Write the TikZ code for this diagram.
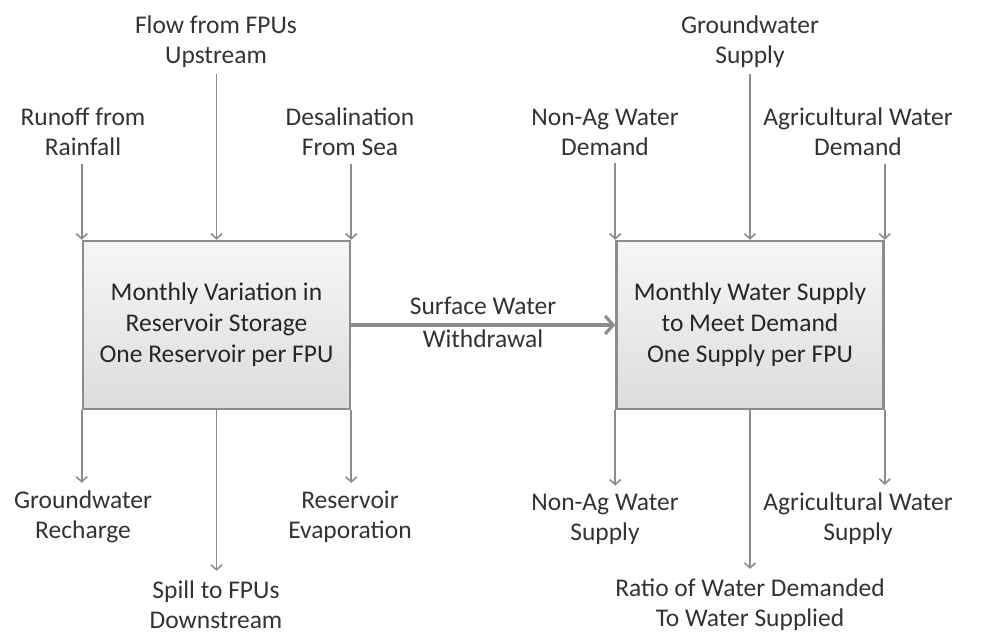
\documentclass[tikz,border=0pt]{standalone}
\usepackage{fontspec}
\setmainfont{Carlito}
\usetikzlibrary{arrows.meta}
\definecolor{linegray}{HTML}{8C8C8C}
\definecolor{txtgray}{HTML}{333333}
\begin{document}
\begin{tikzpicture}[x=1pt,y=-1pt,
  lab/.style={align=center, font=\fontsize{25.5}{30}\selectfont, text=txtgray, inner sep=0pt},
  box/.style={draw=linegray, line width=2.5pt, top color=gray!7, bottom color=gray!27,
    minimum width=267pt, minimum height=168pt, inner sep=0pt, align=center,
    font=\fontsize{25.5}{31}\selectfont, text=black!85},
  flow/.style={draw=linegray, line width=1.6pt, -{Straight Barb[length=5pt,width=11pt]}},
  mainflow/.style={draw=linegray, line width=3.2pt, -{Straight Barb[length=8pt,width=18pt]}}]
\useasboundingbox (0,0) rectangle (984,634);

\node[box] (res) at (216.5,325) {Monthly Variation in\\Reservoir Storage\\One Reservoir per FPU};
\node[box] (sup) at (750,325) {Monthly Water Supply\\to Meet Demand\\One Supply per FPU};

% top labels
\node[lab] (runoff) at (83,132) {Runoff from\\Rainfall};
\node[lab] (flowup) at (216,42) {Flow from FPUs\\Upstream};
\node[lab] (desal) at (350,132) {Desalination\\From Sea};
\node[lab] (nonagd) at (605,132) {Non-Ag Water\\Demand};
\node[lab] (gws) at (750,42) {Groundwater\\Supply};
\node[lab] (agd) at (858,132) {Agricultural Water\\Demand};

% bottom labels
\node[lab] (gwr) at (83,517) {Groundwater\\Recharge};
\node[lab] (spill) at (216,605) {Spill to FPUs\\Downstream};
\node[lab] (evap) at (350,517) {Reservoir\\Evaporation};
\node[lab] (nonags) at (605,519) {Non-Ag Water\\Supply};
\node[lab] (ratio) at (750,605) {Ratio of Water Demanded\\To Water Supplied};
\node[lab] (ags) at (858,519) {Agricultural Water\\Supply};

% middle labels
\node[lab] (sw) at (483,306) {Surface Water};
\node[lab] (wd) at (483,339) {Withdrawal};

% inflows
\draw[flow] ([yshift=-8pt]runoff.south -| res.north west) -- (res.north west);
\draw[flow] ([yshift=-6pt]flowup.south -| res.north) -- (res.north);
\draw[flow] ([yshift=-8pt]desal.south -| res.north east) -- (res.north east);
\draw[flow] ([yshift=-8pt]nonagd.south -| sup.north west) -- (sup.north west);
\draw[flow] ([yshift=-6pt]gws.south -| sup.north) -- (sup.north);
\draw[flow] ([yshift=-8pt]agd.south -| sup.north east) -- (sup.north east);

% outflows
\draw[flow] (res.south west) -- ([yshift=8pt]gwr.north -| res.south west);
\draw[flow] (res.south) -- ([yshift=10pt]spill.north -| res.south);
\draw[flow] (res.south east) -- ([yshift=8pt]evap.north -| res.south east);
\draw[flow] (sup.south west) -- ([yshift=8pt]nonags.north -| sup.south west);
\draw[flow] (sup.south) -- ([yshift=10pt]ratio.north -| sup.south);
\draw[flow] (sup.south east) -- ([yshift=8pt]ags.north -| sup.south east);

% withdrawal
\draw[mainflow] (res.east) -- (sup.west);
\end{tikzpicture}
\end{document}
